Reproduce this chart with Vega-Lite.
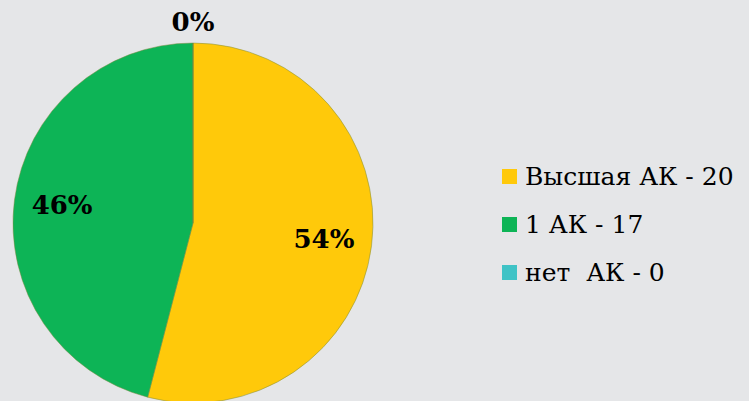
{
  "$schema": "https://vega.github.io/schema/vega-lite/v6.json",
  "width": 386,
  "height": 356,
  "autosize": "none",
  "padding": {"left": 0, "top": 45, "right": 363, "bottom": 0},
  "background": "#e5e6e8",
  "view": {"stroke": null},
  "config": {"font": "DejaVu Serif"},
  "data": {
    "values": [
      {"category": "Высшая АК - 20", "count": 20, "pct": "54%", "rank": 1},
      {"category": "1 АК - 17", "count": 17, "pct": "46%", "rank": 2},
      {"category": "нет\u00a0 АК - 0", "count": 0, "pct": "0%", "rank": 3}
    ]
  },
  "encoding": {
    "theta": {"field": "count", "type": "quantitative", "stack": true},
    "order": {"field": "rank", "type": "quantitative", "sort": "ascending"}
  },
  "layer": [
    {
      "mark": {"type": "arc", "outerRadius": 180, "stroke": "#7a8a40", "strokeWidth": 0.5},
      "encoding": {
        "color": {
          "field": "category",
          "type": "nominal",
          "sort": ["Высшая АК - 20", "1 АК - 17", "нет\u00a0 АК - 0"],
          "scale": {
            "domain": ["Высшая АК - 20", "1 АК - 17", "нет\u00a0 АК - 0"],
            "range": ["#FFC90A", "#0DB456", "#3FC3C6"]
          },
          "legend": {
            "title": null,
            "orient": "none",
            "legendX": 497,
            "legendY": 119,
            "symbolType": "square",
            "symbolSize": 225,
            "symbolStrokeWidth": 0,
            "labelFont": "DejaVu Serif",
            "labelFontSize": 25,
            "labelColor": "#000000",
            "labelOffset": 3,
            "rowPadding": 22,
            "padding": 0,
            "labelLimit": 400
          }
        }
      }
    },
    {
      "mark": {"type": "text", "radius": 132, "font": "DejaVu Serif", "fontWeight": "bold", "fontSize": 26, "color": "#000000"},
      "encoding": {
        "text": {"condition": {"test": "datum.count > 0", "field": "pct"}, "value": ""}
      }
    },
    {
      "mark": {"type": "text", "radius": 200, "font": "DejaVu Serif", "fontWeight": "bold", "fontSize": 26, "color": "#000000"},
      "encoding": {
        "text": {"condition": {"test": "datum.count == 0", "field": "pct"}, "value": ""}
      }
    }
  ]
}
